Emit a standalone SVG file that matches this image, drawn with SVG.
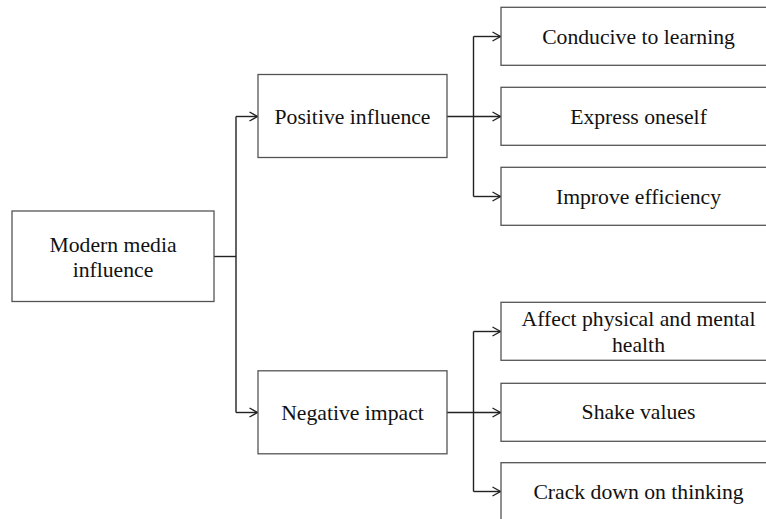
<svg xmlns="http://www.w3.org/2000/svg" width="766" height="519" viewBox="0 0 766 519">
<style>
.box{fill:#fff;stroke:#555;stroke-width:1.3}
.lbl{font-family:"Liberation Serif","Times New Roman",serif;font-size:21.7px;fill:#111;text-anchor:middle}
.conn{fill:none;stroke:#222;stroke-width:1.4}
</style>
<defs>
<marker id="arr" markerUnits="userSpaceOnUse" markerWidth="12" markerHeight="12" viewBox="-10 -6 12 12" refX="0" refY="0" orient="auto">
<path d="M-8,-4.5 L0,0 L-8,4.5" fill="none" stroke="#222" stroke-width="1.4"/>
</marker>
</defs>
<rect width="766" height="519" fill="#fff"/>
<g id="connectors">
<path class="conn" d="M214,256.5 H236"/>
<path class="conn" d="M236,116.5 V412.5"/>
<path class="conn" d="M236,116.5 H257.5" marker-end="url(#arr)"/>
<path class="conn" d="M236,412.5 H257.5" marker-end="url(#arr)"/>
<path class="conn" d="M447,116.5 H500.5" marker-end="url(#arr)"/>
<path class="conn" d="M473.5,36.5 V196.5"/>
<path class="conn" d="M473.5,36.5 H500.5" marker-end="url(#arr)"/>
<path class="conn" d="M473.5,196.5 H500.5" marker-end="url(#arr)"/>
<path class="conn" d="M447,412.5 H500.5" marker-end="url(#arr)"/>
<path class="conn" d="M473.5,331.5 V491.5"/>
<path class="conn" d="M473.5,331.5 H500.5" marker-end="url(#arr)"/>
<path class="conn" d="M473.5,491.5 H500.5" marker-end="url(#arr)"/>
</g>
<g id="root">
<rect class="box" x="12" y="211" width="202" height="90.5"/>
<text class="lbl" x="113" y="251.7">Modern media</text>
<text class="lbl" x="113" y="277.3">influence</text>
</g>
<g id="positive">
<rect class="box" x="258" y="74.5" width="189" height="83"/>
<text class="lbl" x="352.5" y="124">Positive influence</text>
</g>
<g id="negative">
<rect class="box" x="258" y="370.8" width="189" height="83"/>
<text class="lbl" x="352.5" y="420">Negative impact</text>
</g>
<g id="conducive">
<rect class="box" x="501" y="7.3" width="275" height="58"/>
<text class="lbl" x="638.5" y="43.5">Conducive to learning</text>
</g>
<g id="express">
<rect class="box" x="501" y="87.3" width="275" height="58"/>
<text class="lbl" x="638.5" y="124">Express oneself</text>
</g>
<g id="improve">
<rect class="box" x="501" y="167.3" width="275" height="58"/>
<text class="lbl" x="638.5" y="204">Improve efficiency</text>
</g>
<g id="affect">
<rect class="box" x="501" y="302.3" width="275" height="58"/>
<text class="lbl" x="638.5" y="325.7">Affect physical and mental</text>
<text class="lbl" x="638.5" y="351.7">health</text>
</g>
<g id="shake">
<rect class="box" x="501" y="383.3" width="275" height="58"/>
<text class="lbl" x="638.5" y="419">Shake values</text>
</g>
<g id="crack">
<rect class="box" x="501" y="462.7" width="275" height="58"/>
<text class="lbl" x="638.5" y="499.3">Crack down on thinking</text>
</g>
</svg>
